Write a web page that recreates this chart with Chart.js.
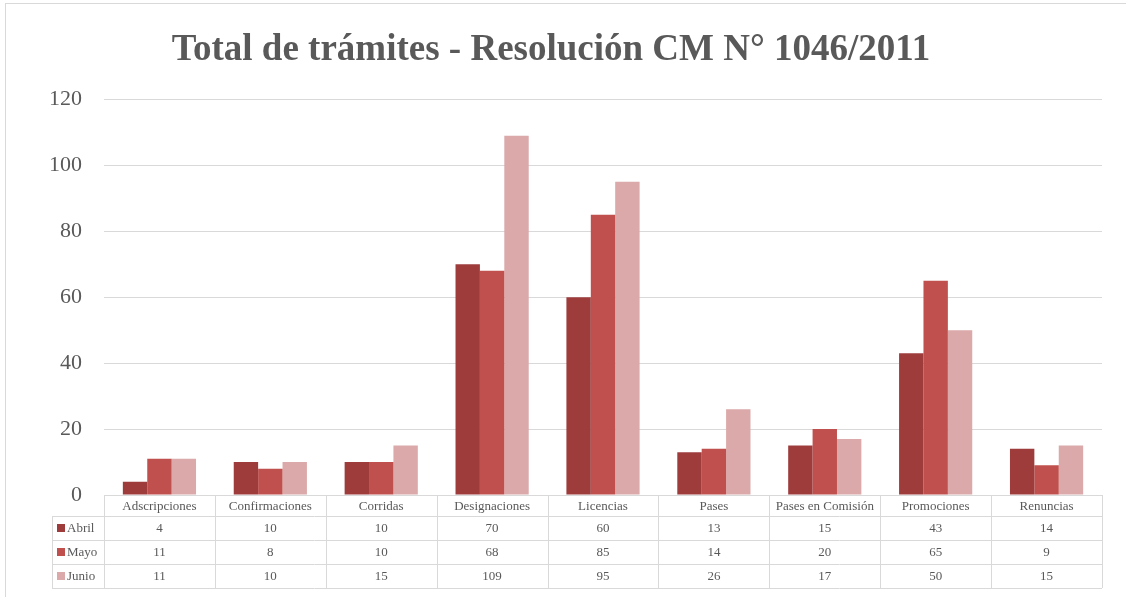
<!DOCTYPE html>
<html>
<head>
<meta charset="utf-8">
<script src="https://cdn.jsdelivr.net/npm/chart.js@4/dist/chart.umd.min.js"></script>
<style>
	body { margin: 0; background: #fff; overflow: hidden; }
	#frame { position: absolute; left: 5px; top: 3px; width: 1200px; height: 700px; border: 1px solid #d9d9d9; }
	#myChart { position: absolute; left: 0; top: 0; }
</style>
</head>
<body>
<div id="frame"></div>
<canvas id="myChart" width="1126" height="597"></canvas>
<script>
// data
const categories = ['Adscripciones', 'Confirmaciones', 'Corridas', 'Designaciones', 'Licencias', 'Pases', 'Pases en Comisión', 'Promociones', 'Renuncias'];
const seriesNames = ['Abril', 'Mayo', 'Junio'];
const abril = [4, 10, 10, 70, 60, 13, 15, 43, 14];
const mayo = [11, 8, 10, 68, 85, 14, 20, 65, 9];
const junio = [11, 10, 15, 109, 95, 26, 17, 50, 15];
const colors = ['#9e3c3c', '#c0504d', '#dba9a9'];

const textColor = '#595959';
const lineColor = '#d9d9d9';

// data table under the plot, like excel's "data table with legend keys"
const dataTable = {
	id: 'dataTable',
	afterDraw(chart) {
		const ctx = chart.ctx;
		const x = chart.scales.x;
		const area = chart.chartArea;
		const cellW = (area.right - area.left) / categories.length;
		const headTop = area.bottom;
		const headH = 21;
		const rowH = 24;
		const legendLeft = 52;
		const rows = chart.data.datasets;

		ctx.save();
		ctx.strokeStyle = lineColor;
		ctx.lineWidth = 1;
		ctx.beginPath();
		// horizontal lines
		ctx.moveTo(area.left, headTop + 0.5);
		ctx.lineTo(area.right, headTop + 0.5);
		for (let r = 0; r <= rows.length; r++) {
			let y = Math.round(headTop + headH + r * rowH) + 0.5;
			ctx.moveTo(legendLeft, y);
			ctx.lineTo(area.right, y);
		}
		// vertical lines
		for (let c = 0; c <= categories.length; c++) {
			let xx = Math.round(area.left + c * cellW) + 0.5;
			ctx.moveTo(xx, headTop);
			ctx.lineTo(xx, headTop + headH + rows.length * rowH);
		}
		ctx.moveTo(legendLeft + 0.5, headTop + headH);
		ctx.lineTo(legendLeft + 0.5, headTop + headH + rows.length * rowH);
		ctx.stroke();

		ctx.fillStyle = textColor;
		ctx.font = '13px "Liberation Serif", "Times New Roman", serif';
		ctx.textAlign = 'center';
		ctx.textBaseline = 'middle';
		for (let i = 0; i < categories.length; i++) {
			ctx.fillText(categories[i], x.getPixelForValue(i), headTop + headH / 2 + 1);
		}
		for (let r = 0; r < rows.length; r++) {
			let cy = headTop + headH + r * rowH + rowH / 2 + 1;
			for (let i = 0; i < categories.length; i++) {
				ctx.fillText(String(rows[r].data[i]), x.getPixelForValue(i), cy);
			}
			// legend key
			ctx.fillStyle = rows[r].backgroundColor;
			ctx.fillRect(legendLeft + 5, cy - 5, 8, 8);
			ctx.fillStyle = textColor;
			ctx.textAlign = 'left';
			ctx.fillText(rows[r].label, legendLeft + 15, cy);
			ctx.textAlign = 'center';
		}
		ctx.restore();
	}
};

const ctx = document.getElementById('myChart').getContext('2d');
const myChart = new Chart(ctx, {
	type: 'bar',
	data: {
		labels: categories,
		datasets: [
			{ label: seriesNames[0], data: abril, backgroundColor: colors[0] },
			{ label: seriesNames[1], data: mayo, backgroundColor: colors[1] },
			{ label: seriesNames[2], data: junio, backgroundColor: colors[2] }
		]
	},
	options: {
		responsive: false,
		animation: false,
		devicePixelRatio: 1,
		layout: { padding: { left: 0, right: 24, top: 0, bottom: 102 } },
		datasets: {
			bar: { categoryPercentage: 0.66, barPercentage: 1.0, borderWidth: 0 }
		},
		plugins: {
			legend: { display: false },
			tooltip: { enabled: false },
			title: {
				display: true,
				text: 'Total de trámites - Resolución CM N° 1046/2011',
				color: textColor,
				font: { family: '"Liberation Serif", "Times New Roman", serif', size: 37, weight: 'bold' },
				padding: { top: 28, bottom: 27 }
			}
		},
		scales: {
			x: { display: false },
			y: {
				min: 0,
				max: 120,
				ticks: {
					stepSize: 20,
					color: textColor,
					padding: 22,
					font: { family: '"Liberation Serif", "Times New Roman", serif', size: 22 }
				},
				grid: { color: lineColor, drawTicks: false },
				border: { display: false },
				afterFit(scale) { scale.width = 104; }
			}
		}
	},
	plugins: [dataTable]
});
</script>
</body>
</html>
